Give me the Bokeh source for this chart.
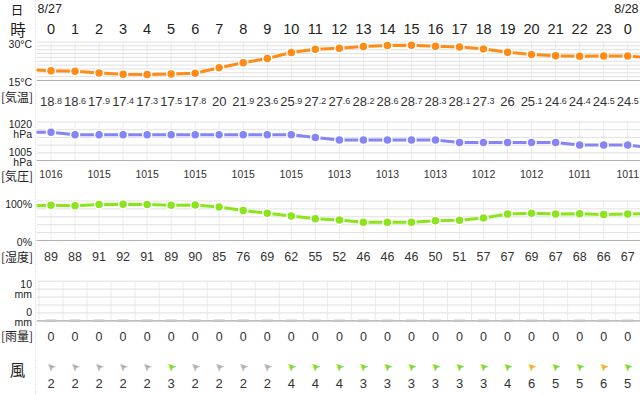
import math
from bokeh.plotting import figure
from bokeh.layouts import row
from bokeh.models import Range1d, Span
from bokeh.core.properties import value
from bokeh.embed import file_html
from bokeh.resources import INLINE

# ---------------- data ----------------
hours = [0, 1, 2, 3, 4, 5, 6, 7, 8, 9, 10, 11, 12, 13, 14, 15, 16, 17, 18, 19, 20, 21, 22, 23, 24]
hour_labels = ["0", "1", "2", "3", "4", "5", "6", "7", "8", "9", "10", "11", "12",
               "13", "14", "15", "16", "17", "18", "19", "20", "21", "22", "23", "0"]
date_labels = ["8/27", "8/28"]
date_hours = [0, 24]

temp = [18.8, 18.6, 17.9, 17.4, 17.3, 17.5, 17.8, 20, 21.9, 23.6, 25.9, 27.2, 27.6,
        28.2, 28.6, 28.7, 28.3, 28.1, 27.3, 26, 25.1, 24.6, 24.4, 24.5, 24.5]
temp_before, temp_after = 19.3, 23.9

pressure = [1016, 1015, 1015, 1015, 1015, 1015, 1015, 1015, 1015, 1015, 1015, 1014, 1013,
            1013, 1013, 1013, 1013, 1012, 1012, 1012, 1012, 1012, 1011, 1011, 1011]
pressure_before, pressure_after = 1016, 1010
pressure_label_hours = [0, 2, 4, 6, 8, 10, 12, 14, 16, 18, 20, 22, 24]

humidity = [89, 88, 91, 92, 91, 89, 90, 85, 76, 69, 62, 55, 52, 46, 46, 46, 50, 51, 57,
            67, 69, 67, 68, 66, 67]
humidity_before, humidity_after = 87, 68

rain = [0, 0, 0, 0, 0, 0, 0, 0, 0, 0, 0, 0, 0, 0, 0, 0, 0, 0, 0, 0, 0, 0, 0, 0, 0]

wind_speed = [2, 2, 2, 2, 2, 3, 2, 2, 2, 2, 4, 4, 4, 3, 3, 3, 3, 3, 3, 4, 6, 5, 5, 6, 5]
wind_dir = ["南東", "南東", "南東", "南東", "南東", "南東", "南東", "南東", "南東",
            "南東", "南東", "南東", "南東", "南東", "南東", "南東", "南東", "南東",
            "南東", "南東", "南東", "南東", "南東", "南東", "南東"]

row_titles = ["日", "時", "[気温]", "[気圧]", "[湿度]", "[雨量]", "風"]
temp_ticks = ["30°C", "15°C"]
pres_ticks = ["1020", "hPa", "1005", "hPa"]
hum_ticks = ["100%", "0%"]
rain_ticks = ["10", "mm", "0", "mm"]

# ---------------- styles / geometry ----------------
FONT = value("Liberation Sans")
JFONT = value("Noto Sans CJK JP")
AFONT = value("DejaVu Sans")
TXT = "#333333"
DARK = "#222222"

PAGE_TOP, PAGE_BOTTOM = 0, 395
H = PAGE_BOTTOM - PAGE_TOP
X_LEFT, X_RIGHT = 36, 640
X0, DX = 50.5, 24.03

xr = Range1d((X_LEFT - X0) / DX, (X_RIGHT - X0) / DX)
yr = Range1d(PAGE_BOTTOM, PAGE_TOP)


def band_range(v_lo, v_hi, y_lo, y_hi):
    k = (v_hi - v_lo) / (y_lo - y_hi)
    return Range1d(v_lo - (PAGE_BOTTOM - y_lo) * k, v_lo + (y_lo - PAGE_TOP) * k)


main = figure(width=X_RIGHT - X_LEFT, height=H, x_range=xr, y_range=yr,
              output_backend="svg", toolbar_location=None, min_border=0,
              x_axis_location=None, y_axis_location=None)
main.grid.visible = False
main.outline_line_color = None
main.background_fill_color = "white"

main.extra_y_ranges = {
    "temp": band_range(15, 30, 80, 41.5),
    "pres": band_range(1005, 1020, 160, 121.5),
    "hum": band_range(0, 100, 240, 200.5),
    "rain": band_range(0, 10, 320.3, 280.7),
}


def draw_grid(name, lo, hi, step, vx):
    n = int(round((hi - lo) / step))
    ys = [lo + i * step for i in range(n + 1)]
    main.segment(x0=vx, x1=vx, y0=lo, y1=hi, y_range_name=name,
                 line_color="#ebebeb", line_width=1)
    main.segment(x0=xr.start, x1=xr.end, y0=ys, y1=ys, y_range_name=name,
                 line_color="#e0e0e0", line_width=1)
    main.segment(x0=xr.start, x1=xr.end, y0=lo, y1=lo, y_range_name=name,
                 line_color="#b0b0b0", line_width=1.2)


draw_grid("temp", 15, 30, 1.5, hours)
draw_grid("pres", 1005, 1020, 3, hours)
draw_grid("hum", 0, 100, 20, hours)
draw_grid("rain", 0, 10, 2, [h - 0.5 for h in hours] + [hours[-1] + 0.5])


def series(name, vals, before, after, color):
    xs = [hours[0] - 1] + hours + [hours[-1] + 1]
    ys = [before] + vals + [after]
    main.line(xs, ys, y_range_name=name, line_color=color, line_width=3)
    main.scatter(xs, ys, y_range_name=name, size=9, fill_color=color,
                 line_color="white", line_width=1.5)


series("temp", temp, temp_before, temp_after, "#ff8c17")
series("pres", pressure, pressure_before, pressure_after, "#8585f7")
series("hum", humidity, humidity_before, humidity_after, "#8be51c")

# rain marks (zero-height bars)
main.scatter(hours, rain, y_range_name="rain", marker="dash", size=11,
             line_color="#c4c4c4", line_width=2.5)

# header rows
main.text(x=date_hours, y=[8.5] * len(date_hours), text=date_labels, text_font=FONT,
          text_font_size="12.5px", text_color=DARK, text_align="left",
          text_baseline="middle", x_offset=-13.5)
main.text(x=hours, y=[28] * len(hours), text=hour_labels, text_font=FONT,
          text_font_size="14.5px", text_color=DARK, text_align="center",
          text_baseline="middle")

# temperature values: integer part big, decimal part small
int_x, int_t, dec_x, dec_t, whole_x, whole_t = [], [], [], [], [], []
for h, v in zip(hours, temp):
    s = f"{v:g}"
    if "." in s:
        a, b = s.split(".")
        int_x.append(h); int_t.append(a)
        dec_x.append(h); dec_t.append("." + b)
    else:
        whole_x.append(h); whole_t.append(s)
TY = 100.5
main.text(x=int_x, y=[TY] * len(int_x), text=int_t, text_font=FONT, text_font_size="13px",
          text_color=TXT, text_align="right", text_baseline="alphabetic", x_offset=3.5)
main.text(x=dec_x, y=[TY] * len(dec_x), text=dec_t, text_font=FONT, text_font_size="9px",
          text_color=TXT, text_align="left", text_baseline="alphabetic", x_offset=3.5)
main.text(x=whole_x, y=[TY] * len(whole_x), text=whole_t, text_font=FONT,
          text_font_size="13px", text_color=TXT, text_align="center",
          text_baseline="alphabetic")

# pressure labels
main.text(x=pressure_label_hours, y=[173] * len(pressure_label_hours),
          text=[str(pressure[h]) for h in pressure_label_hours], text_font=FONT,
          text_font_size="10.5px", text_color=TXT, text_align="center",
          text_baseline="middle")
# humidity labels
main.text(x=hours, y=[256] * len(hours), text=[str(v) for v in humidity], text_font=FONT,
          text_font_size="12.5px", text_color=TXT, text_align="center",
          text_baseline="middle")
# rain labels
main.text(x=hours, y=[336] * len(hours), text=[str(v) for v in rain], text_font=FONT,
          text_font_size="12.5px", text_color=TXT, text_align="center",
          text_baseline="middle")

# wind
dir_angle = {"南東": 135}


def wind_color(s):
    if s <= 2:
        return "#b4b4b4"
    if s <= 5:
        return "#7fdc1e"
    return "#fbb024"


main.text(x=hours, y=[366.5] * len(hours), text=["➤"] * len(hours), text_font=AFONT,
          text_font_size="11px", text_color=[wind_color(s) for s in wind_speed],
          angle=[math.radians(dir_angle[d]) for d in wind_dir],
          text_align="center", text_baseline="middle")
main.text(x=hours, y=[383] * len(hours), text=[str(s) for s in wind_speed], text_font=FONT,
          text_font_size="13px", text_color=TXT, text_align="center",
          text_baseline="middle")

# ---------------- left label column ----------------
left = figure(width=X_LEFT - PAGE_TOP, height=H, x_range=Range1d(0, X_LEFT), y_range=yr,
              output_backend="svg", toolbar_location=None, min_border=0,
              x_axis_location=None, y_axis_location=None)
left.grid.visible = False
left.outline_line_color = None
left.add_layout(Span(location=35.5, dimension="height", line_color="#9a9a9a",
                     line_dash="1 2", line_width=1))

# row titles
title_x = [16.5, 17.5, 32.5, 32.5, 32.5, 32.5, 17]
title_y = [8.5, 28, 96, 175, 256, 335, 368]
title_size = ["12.5px", "15.5px", "12px", "12px", "12px", "12px", "15.5px"]
title_align = ["center", "center", "right", "right", "right", "right", "center"]
for t, x, y, sz, al in zip(row_titles, title_x, title_y, title_size, title_align):
    left.text(x=[x], y=[y], text=[t], text_font=JFONT, text_font_size=sz,
              text_color=DARK, text_align=al, text_baseline="middle")

tick_texts = temp_ticks + pres_ticks + hum_ticks + rain_ticks
tick_y = [43.7, 81.7, 123, 133.3, 151, 161, 203.7, 241.3, 283.7, 293.7, 311, 321]
left.text(x=[31.5] * len(tick_texts), y=tick_y, text=tick_texts, text_font=FONT,
          text_font_size="10.5px", text_color=DARK, text_align="right",
          text_baseline="middle")

layout = row(left, main)
open("out.html", "w").write(file_html(layout, INLINE))
